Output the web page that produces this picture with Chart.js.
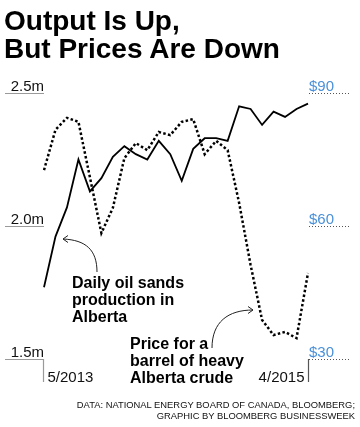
<!DOCTYPE html>
<html>
<head>
<meta charset="utf-8">
<script src="https://cdn.jsdelivr.net/npm/chart.js@4"></script>
<style>
  html, body { margin: 0; padding: 0; background: #fff; }
  #wrap { position: relative; width: 360px; height: 427px; overflow: hidden; font-family: "Liberation Sans", Arial, sans-serif; }
  canvas { position: absolute; left: 0; top: 0; }
  .t { position: absolute; color: #000; white-space: nowrap; }
  #title { left: 4px; top: 7px; font-size: 28px; line-height: 28px; font-weight: bold; }
  .ann { font-size: 16px; line-height: 17px; font-weight: bold; }
  #ann1 { left: 72px; top: 274px; }
  #ann2 { left: 130px; top: 335px; }
  #foot { right: 5px; top: 400px; font-size: 9.4px; line-height: 10.5px; text-align: right; color: #111; }
</style>
</head>
<body>
<div id="wrap">
  <canvas id="c" width="360" height="427"></canvas>
  <div class="t" id="title">Output Is Up,<br>But Prices Are Down</div>
  <div class="t ann" id="ann1">Daily oil sands<br>production in<br>Alberta</div>
  <div class="t ann" id="ann2">Price for a<br>barrel of heavy<br>Alberta crude</div>
  <div class="t" id="foot">DATA: NATIONAL ENERGY BOARD OF CANADA, BLOOMBERG;<br>GRAPHIC BY BLOOMBERG BUSINESSWEEK</div>
</div>
<script>
// Months from 5/2013 to 4/2015
const months = ["5/2013","6/2013","7/2013","8/2013","9/2013","10/2013","11/2013","12/2013",
  "1/2014","2/2014","3/2014","4/2014","5/2014","6/2014","7/2014","8/2014","9/2014","10/2014",
  "11/2014","12/2014","1/2015","2/2015","3/2015","4/2015"];
// Daily oil sands production (million barrels/day)
const production = [1.77, 1.96, 2.07, 2.25, 2.13, 2.18, 2.26, 2.30, 2.27, 2.25, 2.32, 2.27,
  2.17, 2.29, 2.33, 2.33, 2.32, 2.45, 2.44, 2.38, 2.43, 2.41, 2.44, 2.46];
// Price for a barrel of heavy Alberta crude ($)
const price = [72.6, 81.7, 84.4, 83.5, 71.0, 58.4, 64.1, 75.3, 78.7, 77.1, 81.2, 80.5,
  83.5, 84.1, 76.2, 79.2, 77.1, 65.2, 51.2, 38.8, 35.4, 36.1, 34.7, 49.4];
// Tick labels
const leftTicks = [1.5, 2.0, 2.5];
const leftTickLabels = ["1.5m", "2.0m", "2.5m"];
const rightTicks = [30, 60, 90];
const rightTickLabels = ["$30", "$60", "$90"];
const xEndLabels = ["5/2013", "4/2015"];

const BLUE = "#4a90d9";

const decor = {
  id: "decor",
  afterDatasetsDraw(chart) {
    const ctx = chart.ctx;
    const yL = chart.scales.y, yR = chart.scales.y2, x = chart.scales.x;
    const left = chart.chartArea.left, right = chart.chartArea.right;
    ctx.save();
    ctx.font = "15px 'Liberation Sans', Arial, sans-serif";
    ctx.textBaseline = "alphabetic";
    // left ticks
    leftTicks.forEach((v, i) => {
      const py = Math.round(yL.getPixelForValue(v)) + 0.5;
      ctx.strokeStyle = "#9a9a9a"; ctx.lineWidth = 1.2; ctx.setLineDash([]);
      ctx.beginPath(); ctx.moveTo(5, py); ctx.lineTo(left, py); ctx.stroke();
      ctx.fillStyle = "#111"; ctx.textAlign = "right";
      ctx.fillText(leftTickLabels[i], left, py - 3);
    });
    // right ticks
    rightTicks.forEach((v, i) => {
      const py = Math.round(yR.getPixelForValue(v)) + 0.5;
      ctx.strokeStyle = "#555"; ctx.lineWidth = 1; ctx.setLineDash([1, 2]);
      ctx.beginPath(); ctx.moveTo(right + 1, py); ctx.lineTo(right + 42, py); ctx.stroke();
      ctx.setLineDash([]);
      ctx.fillStyle = BLUE; ctx.textAlign = "left";
      ctx.fillText(rightTickLabels[i], right + 1, py - 3);
    });
    // x end markers
    const base = Math.round(yL.getPixelForValue(leftTicks[0]));
    const x0 = Math.round(x.getPixelForValue(0)) - 0.5;
    const x1 = Math.round(x.getPixelForValue(months.length - 1)) + 0.5;
    ctx.strokeStyle = "#9a9a9a"; ctx.lineWidth = 1.2;
    ctx.beginPath(); ctx.moveTo(x0, base); ctx.lineTo(x0, base + 23); ctx.stroke();
    ctx.strokeStyle = "#555"; ctx.lineWidth = 1.2;
    ctx.beginPath(); ctx.moveTo(x1, base); ctx.lineTo(x1, base + 23); ctx.stroke();
    ctx.fillStyle = "#111";
    ctx.textAlign = "left"; ctx.fillText(xEndLabels[0], x0 + 4, base + 23);
    ctx.textAlign = "right"; ctx.fillText(xEndLabels[1], x1 - 4, base + 23);
    // arrows
    ctx.strokeStyle = "#222"; ctx.lineWidth = 1;
    ctx.beginPath(); ctx.moveTo(97, 272); ctx.bezierCurveTo(97, 250, 86, 240, 63, 239); ctx.stroke();
    ctx.beginPath(); ctx.moveTo(68, 235.5); ctx.lineTo(63, 239); ctx.lineTo(68, 242.5); ctx.stroke();
    ctx.beginPath(); ctx.moveTo(212, 348); ctx.bezierCurveTo(212, 322, 228, 310, 253, 310); ctx.stroke();
    ctx.beginPath(); ctx.moveTo(248, 306.5); ctx.lineTo(253, 310); ctx.lineTo(248, 313.5); ctx.stroke();
    ctx.restore();
  }
};

new Chart(document.getElementById("c"), {
  type: "line",
  data: {
    labels: months,
    datasets: [
      { label: "Production", data: production, yAxisID: "y", borderColor: "#000", borderWidth: 1.8,
        pointRadius: 0, tension: 0, fill: false },
      { label: "Price", data: price, yAxisID: "y2", borderColor: "#000", borderWidth: 2.5,
        borderDash: [2.5, 2.3], pointRadius: 0, tension: 0, fill: false }
    ]
  },
  options: {
    responsive: false,
    animation: false,
    layout: { padding: { left: 44, right: 52, top: 93, bottom: 68 } },
    plugins: { legend: { display: false }, tooltip: { enabled: false } },
    scales: {
      x: { display: false, offset: false },
      y: { display: false, min: 1.5, max: 2.5 },
      y2: { display: false, min: 30, max: 90 }
    }
  },
  plugins: [decor]
});
</script>
</body>
</html>
